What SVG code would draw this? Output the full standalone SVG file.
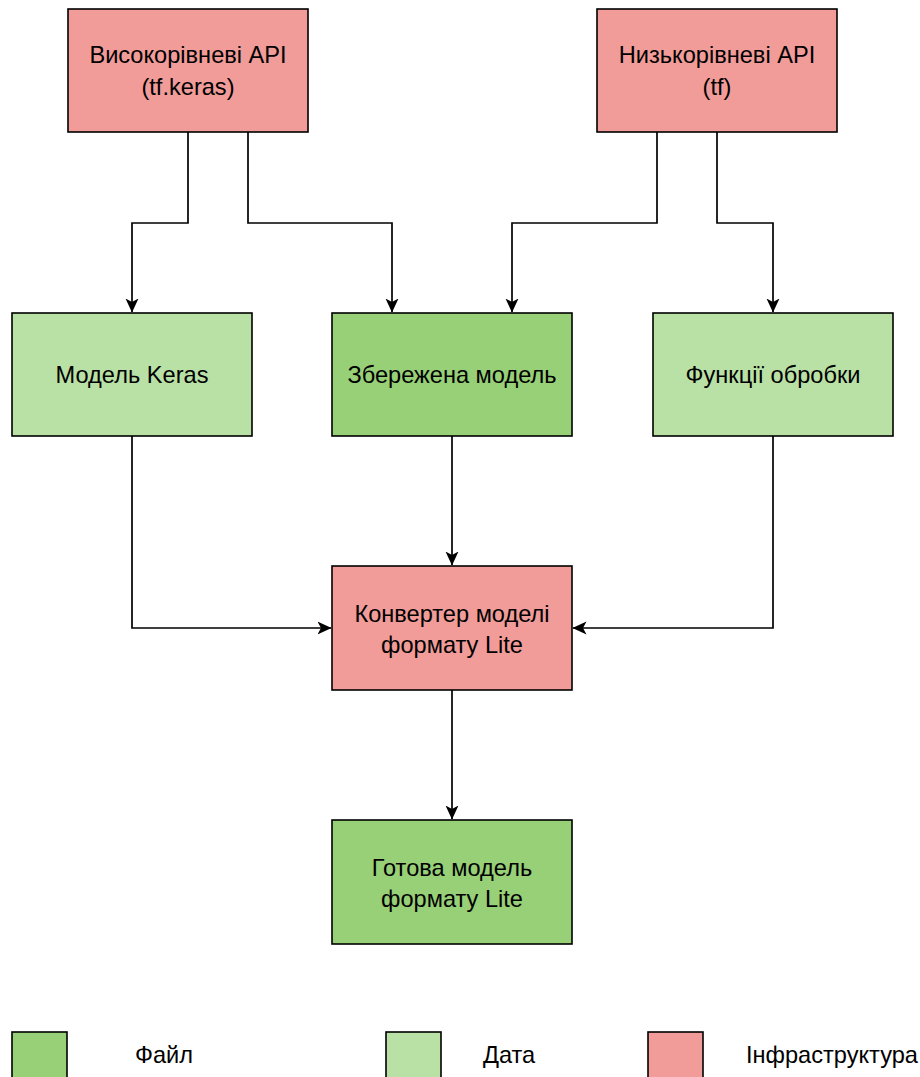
<svg xmlns="http://www.w3.org/2000/svg" width="920" height="1077" viewBox="0 0 920 1077">
<style>
.box{stroke:#000;stroke-width:1.6}
.red{fill:#F19C99}
.lg{fill:#B9E0A5}
.dg{fill:#97D077}
text{font-family:"Liberation Sans",Arial,sans-serif;font-size:23.6px;fill:#000;text-anchor:middle}
.edge{fill:none;stroke:#000;stroke-width:1.7}
.leg{text-anchor:start}
</style>
<defs>
<marker id="arr" viewBox="0 0 14 14" refX="13.5" refY="7" markerWidth="14" markerHeight="14" markerUnits="userSpaceOnUse" orient="auto">
<path d="M0,0.5 L14,7 L0,13.5 L3.5,7 Z" fill="#000"/>
</marker>
</defs>
<rect width="920" height="1077" fill="#fff"/>
<g id="connectors">
<path class="edge" d="M188,132 V223 H132 V312" marker-end="url(#arr)"/>
<path class="edge" d="M248,132 V223 H392 V312" marker-end="url(#arr)"/>
<path class="edge" d="M657,132 V223 H512 V312" marker-end="url(#arr)"/>
<path class="edge" d="M717,132 V223 H773 V312" marker-end="url(#arr)"/>
<path class="edge" d="M132,436 V628 H331" marker-end="url(#arr)"/>
<path class="edge" d="M452,436 V565" marker-end="url(#arr)"/>
<path class="edge" d="M773,436 V628 H573" marker-end="url(#arr)"/>
<path class="edge" d="M452,690 V819" marker-end="url(#arr)"/>
</g>
<g id="high-api">
<rect class="box red" x="68" y="9" width="240" height="123"/>
<text x="188" y="63">Високорівневі API</text>
<text x="188" y="95">(tf.keras)</text>
</g>
<g id="low-api">
<rect class="box red" x="597" y="9" width="240" height="123"/>
<text x="717" y="63">Низькорівневі API</text>
<text x="717" y="95">(tf)</text>
</g>
<g id="keras-model">
<rect class="box lg" x="12" y="313" width="240" height="123"/>
<text x="132" y="383">Модель Keras</text>
</g>
<g id="saved-model">
<rect class="box dg" x="332" y="313" width="240" height="123"/>
<text x="452" y="383">Збережена модель</text>
</g>
<g id="functions">
<rect class="box lg" x="653" y="313" width="240" height="123"/>
<text x="773" y="383">Функції обробки</text>
</g>
<g id="converter">
<rect class="box red" x="332" y="566" width="240" height="124"/>
<text x="452" y="622">Конвертер моделі</text>
<text x="452" y="653">формату Lite</text>
</g>
<g id="final-model">
<rect class="box dg" x="332" y="820" width="240" height="124"/>
<text x="452" y="876">Готова модель</text>
<text x="452" y="907">формату Lite</text>
</g>
<g id="legend-file">
<rect class="box dg" x="12" y="1032" width="55" height="60"/>
<text class="leg" x="135" y="1063">Файл</text>
</g>
<g id="legend-data">
<rect class="box lg" x="386" y="1032" width="55" height="60"/>
<text class="leg" x="483" y="1063">Дата</text>
</g>
<g id="legend-infra">
<rect class="box red" x="648" y="1032" width="55" height="60"/>
<text class="leg" x="746" y="1063">Інфраструктура</text>
</g>
</svg>
